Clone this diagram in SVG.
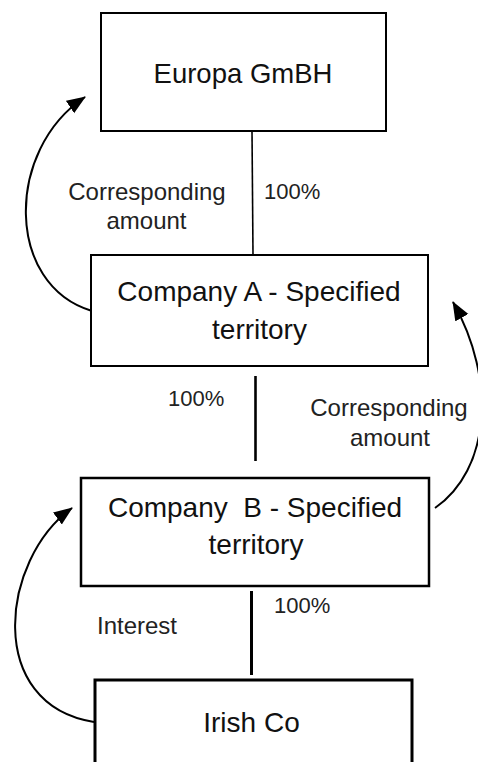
<svg xmlns="http://www.w3.org/2000/svg" width="478" height="762" viewBox="0 0 478 762">
  <defs>
    <marker id="arrow" markerUnits="userSpaceOnUse" markerWidth="22" markerHeight="16" refX="18" refY="7.5" orient="auto">
      <path d="M0,0 L19,7.5 L0,15 z" fill="#000"/>
    </marker>
    <style>
      .box { fill: #fff; stroke: #000; }
      .node { font-family: "Liberation Sans", Arial, sans-serif; font-size: 28px; fill: #111; text-anchor: middle; }
      .label { font-family: "Liberation Sans", Arial, sans-serif; font-size: 24px; fill: #222; }
      .pct { font-family: "Liberation Sans", Arial, sans-serif; font-size: 22px; fill: #222; }
      .conn { stroke: #000; fill: none; }
      .curve { stroke: #000; fill: none; stroke-width: 2; marker-end: url(#arrow); }
    </style>
  </defs>
  <rect width="478" height="762" fill="#fff"/>

  <g id="connectors">
    <line class="conn" x1="252" y1="131" x2="253" y2="255" stroke-width="1.6"/>
    <line class="conn" x1="255.5" y1="376" x2="255.5" y2="461" stroke-width="2.6"/>
    <line class="conn" x1="251.5" y1="591" x2="251.5" y2="675" stroke-width="3"/>
    <path class="curve" d="M92,311 C 5,285 5,150 85,97"/>
    <path class="curve" d="M435,508 C 490,470 497,380 453,302"/>
    <path class="curve" d="M94,722 C -15,705 0,560 72,508"/>
  </g>

  <g id="europa">
    <rect class="box" x="101" y="13" width="285" height="118" stroke-width="2"/>
    <text class="node" x="243" y="83" style="font-size:27.5px">Europa GmBH</text>
  </g>

  <g id="companyA">
    <rect class="box" x="91" y="255" width="337" height="111" stroke-width="2"/>
    <text class="node" x="259" y="301">Company A - Specified</text>
    <text class="node" x="259.5" y="339">territory</text>
  </g>

  <g id="companyB">
    <rect class="box" x="81" y="478" width="348" height="108" stroke-width="2.5"/>
    <text class="node" x="255" y="517" xml:space="preserve">Company  B - Specified</text>
    <text class="node" x="256" y="554">territory</text>
  </g>

  <g id="irishco">
    <rect class="box" x="95" y="680" width="317" height="100" stroke-width="3"/>
    <text class="node" x="251.5" y="732">Irish Co</text>
  </g>

  <g id="labels">
    <text class="label" x="147" y="200" text-anchor="middle">Corresponding</text>
    <text class="label" x="146.5" y="229" text-anchor="middle">amount</text>
    <text class="pct" x="264" y="199">100%</text>
    <text class="pct" x="168" y="406">100%</text>
    <text class="label" x="389" y="416" text-anchor="middle">Corresponding</text>
    <text class="label" x="390" y="446" text-anchor="middle">amount</text>
    <text class="pct" x="274" y="613">100%</text>
    <text class="label" x="97" y="634">Interest</text>
  </g>
</svg>
